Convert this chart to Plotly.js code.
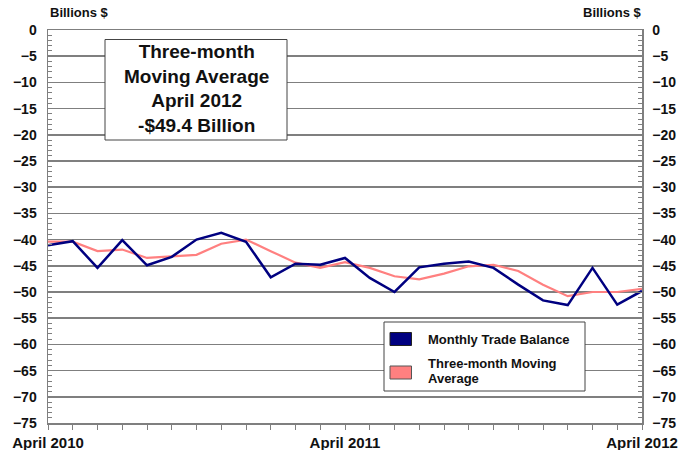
<!DOCTYPE html>
<html>
<head>
<meta charset="utf-8">
<script src="https://cdn.plot.ly/plotly-3.0.1.min.js"></script>
<style>
html,body{margin:0;padding:0;background:#fff;}
#chart{width:696px;height:450px;}
</style>
</head>
<body>
<div id="chart"></div>
<script>
// Months April 2010 .. April 2012
const months = [
  "Apr 2010","May 2010","Jun 2010","Jul 2010","Aug 2010","Sep 2010","Oct 2010","Nov 2010","Dec 2010",
  "Jan 2011","Feb 2011","Mar 2011","Apr 2011","May 2011","Jun 2011","Jul 2011","Aug 2011","Sep 2011",
  "Oct 2011","Nov 2011","Dec 2011","Jan 2012","Feb 2012","Mar 2012","Apr 2012"
];
const monthlyBalance = [
  -41.1, -40.3, -45.4, -40.1, -44.9, -43.3, -40.0, -38.7, -40.4,
  -47.2, -44.6, -44.8, -43.5, -47.3, -50.0, -45.3, -44.6, -44.2,
  -45.4, -48.6, -51.6, -52.5, -45.4, -52.4, -49.8
];
const movingAverage = [
  -40.4, -40.4, -42.2, -41.9, -43.5, -43.2, -42.9, -40.8, -40.0,
  -42.2, -44.4, -45.4, -44.3, -45.4, -47.0, -47.6, -46.5, -45.1,
  -44.8, -46.0, -48.6, -50.8, -50.0, -50.0, -49.4
];
const xTickText = months.map(function(m){
  return (m === "Apr 2010") ? "April 2010" : (m === "Apr 2011") ? "April 2011" : (m === "Apr 2012") ? "April 2012" : "";
});
const legendLine1 = "Monthly Trade Balance";
const legendLine2a = "Three-month Moving";
const legendLine2b = "Average";
const boxLines = ["Three-month", "Moving Average", "April 2012", "-$49.4 Billion"];
const yUnit = "Billions $";

const navy = "#000080";
const pink = "#ff8080";
const grey = "#7f7f7f";
const fontFam = "Arial, 'Liberation Sans', sans-serif";

const traces = [
  {x: months, y: movingAverage, type: "scatter", mode: "lines", name: "Three-month Moving Average",
   line: {color: pink, width: 2.2}, xaxis: "x", yaxis: "y", hoverinfo: "skip"},
  {x: months, y: monthlyBalance, type: "scatter", mode: "lines", name: "Monthly Trade Balance",
   line: {color: navy, width: 2.5}, xaxis: "x", yaxis: "y2", hoverinfo: "skip"}
];

// plot-area pixel helpers for decorations (layout positions)
const PL = 48, PR = 642, PT = 30, PB = 423;
function px(x){ return (x - PL) / (PR - PL); }
function py(y){ return (PB - y) / (PB - PT); }

const yAxisCommon = {
  range: [-75, 0], dtick: 5, tick0: 0, ticks: "inside", ticklen: 6, tickcolor: grey, tickwidth: 1,
  showline: true, linecolor: grey, linewidth: 1.5, zeroline: false,
  tickfont: {family: fontFam, size: 14, color: "#111", weight: "bold"},
  minor: {dtick: 1, ticks: "inside", ticklen: 4, tickcolor: grey, tickwidth: 1, showgrid: false},
  fixedrange: true
};

const layout = {
  width: 696, height: 450,
  margin: {l: PL, r: 696 - PR, t: PT, b: 450 - PB, pad: 0},
  paper_bgcolor: "#fff", plot_bgcolor: "#fff",
  showlegend: false,
  font: {family: fontFam, color: "#111"},
  xaxis: {
    type: "category", range: [0, 24], tickvals: months, ticktext: xTickText,
    ticks: "outside", ticklen: 5, tickcolor: grey, tickwidth: 1,
    showline: true, mirror: true, linecolor: grey, linewidth: 1.5, showgrid: false, zeroline: false,
    tickangle: 0, tickfont: {family: fontFam, size: 15, color: "#111", weight: "bold"},
    fixedrange: true
  },
  yaxis: Object.assign({}, yAxisCommon, {side: "left", showgrid: true, gridcolor: grey, gridwidth: 1.6, ticklabelstandoff: 7}),
  yaxis2: Object.assign({}, yAxisCommon, {side: "right", overlaying: "y", showgrid: false, ticklabelstandoff: 6}),
  shapes: [
    // text box
    {type: "rect", xref: "paper", yref: "paper", x0: px(105), x1: px(287), y0: py(140), y1: py(39.5),
     line: {color: "#444", width: 1}, fillcolor: "#fff", layer: "above"},
    // legend box
    {type: "rect", xref: "paper", yref: "paper", x0: px(384), x1: px(585), y0: py(391), y1: py(322),
     line: {color: "#444", width: 1}, fillcolor: "#fff", layer: "above"},
    {type: "rect", xref: "paper", yref: "paper", x0: px(390), x1: px(411.5), y0: py(345.5), y1: py(332.5),
     line: {color: "#222", width: 1}, fillcolor: navy, layer: "above"},
    {type: "rect", xref: "paper", yref: "paper", x0: px(390), x1: px(411.5), y0: py(379), y1: py(366),
     line: {color: "#555", width: 1}, fillcolor: pink, layer: "above"}
  ],
  annotations: [
    {xref: "paper", yref: "paper", x: px(196), y: py(89), xanchor: "center", yanchor: "middle",
     text: boxLines.join("<br>"), showarrow: false, align: "center",
     font: {family: fontFam, size: 19, color: "#111", weight: "bold"}},
    {xref: "paper", yref: "paper", x: px(426), y: py(339), xanchor: "left", yanchor: "middle",
     text: legendLine1, showarrow: false, align: "left",
     font: {family: fontFam, size: 13, color: "#111", weight: "bold"}},
    {xref: "paper", yref: "paper", x: px(426), y: py(363), xanchor: "left", yanchor: "middle",
     text: legendLine2a, showarrow: false, align: "left",
     font: {family: fontFam, size: 13, color: "#111", weight: "bold"}},
    {xref: "paper", yref: "paper", x: px(426), y: py(378.5), xanchor: "left", yanchor: "middle",
     text: legendLine2b, showarrow: false, align: "left",
     font: {family: fontFam, size: 13, color: "#111", weight: "bold"}},
    {xref: "paper", yref: "paper", x: px(48), y: py(13), xanchor: "left", yanchor: "middle",
     text: yUnit, showarrow: false,
     font: {family: fontFam, size: 13, color: "#111", weight: "bold"}},
    {xref: "paper", yref: "paper", x: px(644), y: py(13), xanchor: "right", yanchor: "middle",
     text: yUnit, showarrow: false,
     font: {family: fontFam, size: 13, color: "#111", weight: "bold"}}
  ]
};

Plotly.newPlot("chart", traces, layout, {staticPlot: true, displayModeBar: false});
</script>
</body>
</html>
